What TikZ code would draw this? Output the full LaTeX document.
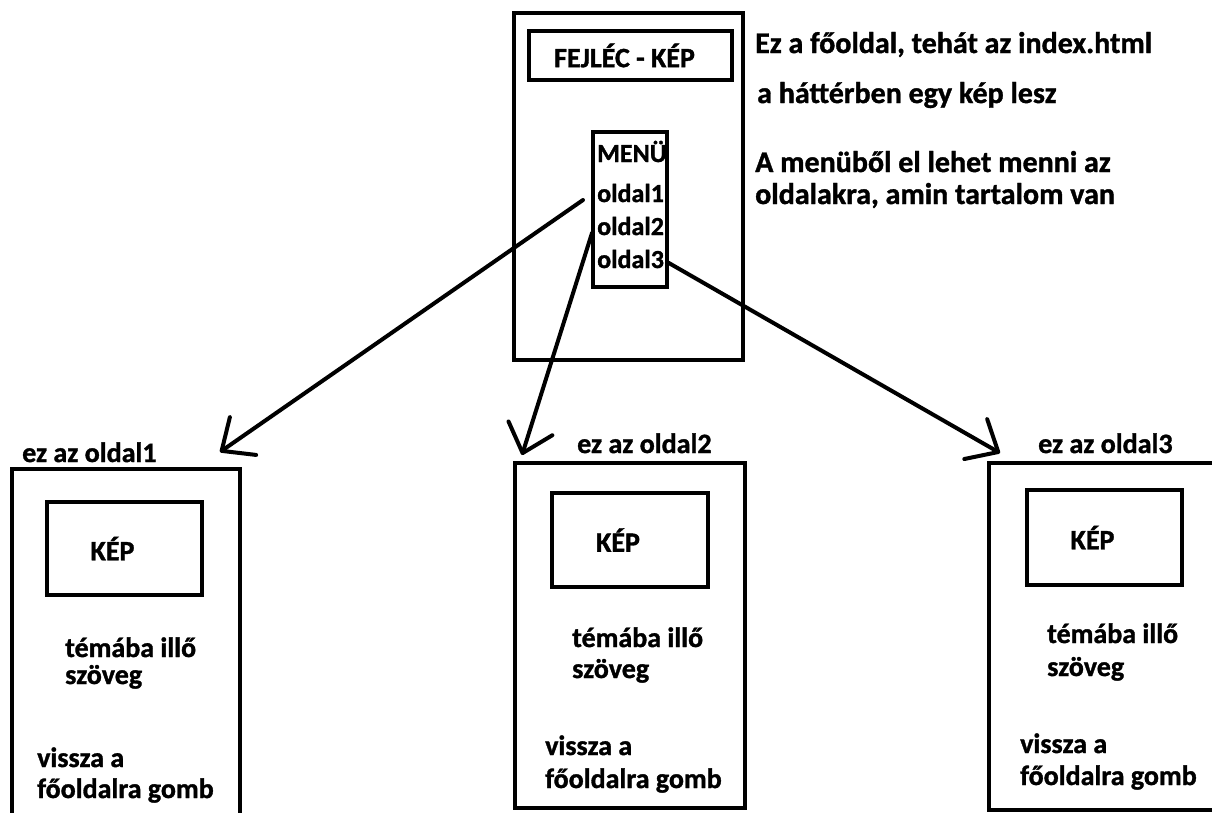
\documentclass[tikz,border=0pt]{standalone}
\usepackage{fontspec}
\setmainfont{Carlito}[BoldFeatures={FakeBold=1.2}]
\usetikzlibrary{arrows.meta}
\newcommand{\felirat}{\fontsize{28}{32}\selectfont\bfseries}
\newcommand{\nagyfelirat}{\fontsize{30}{34}\selectfont\bfseries}
\newcommand{\menufelirat}{\fontsize{26}{30}\selectfont\bfseries}
\begin{document}
\begin{tikzpicture}[x=1pt, y=-1pt,
		doboz/.style={draw, rectangle, line width=4pt, inner sep=0},
		szoveg/.style={anchor=base west, inner sep=0, font=\felirat},
		kepfelirat/.style={inner sep=0, font=\felirat},
		nyil/.style={line width=4pt, line cap=round, -{Straight Barb[round, length=26pt, width=46pt]}}]
		\useasboundingbox (0,0) rectangle (1212,812);
		\clip (0,0) rectangle (1212,812);
		% a fooldal
		\node[doboz, minimum width=229, minimum height=347] (fooldal) at (628.5,186.5) {};
		\node[doboz, minimum width=203, minimum height=49] (fejlec) at (630.5,55.5) {};
		\node[kepfelirat] (fejlecszoveg) at ([xshift=-6pt]fejlec.center) {FEJLÉC - KÉP};
		\node[doboz, minimum width=74, minimum height=155] (menu) at (630,209.5) {};
		\node[szoveg, font=\menufelirat] (menucim) at (597,162) {MENÜ};
		\node[szoveg, font=\menufelirat] (m1) at (597,202) {oldal1};
		\node[szoveg, font=\menufelirat] (m2) at (597,235) {oldal2};
		\node[szoveg, font=\menufelirat] (m3) at (597,268) {oldal3};
		\node[szoveg, font=\nagyfelirat] (leiras1) at (755,53) {Ez a főoldal, tehát az index.html};
		\node[szoveg, font=\nagyfelirat] (leiras2) at (757,103) {a háttérben egy kép lesz};
		\node[szoveg, font=\nagyfelirat] (leiras3) at (755,172) {A menüből el lehet menni az};
		\node[szoveg, font=\nagyfelirat] (leiras4) at (755,204) {oldalakra, amin tartalom van};
		% az oldalak
		\node[doboz, minimum width=228, minimum height=401] (lap1) at (126,669.5) {};
		\node[doboz, minimum width=230, minimum height=345] (lap2) at (630,635.5) {};
		\node[doboz, minimum width=271, minimum height=347] (lap3) at (1124.5,636.5) {};
		\node[szoveg] (cim1) at (22,462) {ez az oldal1};
		\node[szoveg] (cim2) at (577,453) {ez az oldal2};
		\node[szoveg] (cim3) at (1038,453) {ez az oldal3};
		\node[doboz, minimum width=155, minimum height=93] (kep1) at (124.5,548.5) {};
		\node[doboz, minimum width=156, minimum height=94] (kep2) at (630,540) {};
		\node[doboz, minimum width=155, minimum height=95] (kep3) at (1104.5,537.5) {};
		\node[kepfelirat] (kepszoveg1) at ([xshift=-12pt]kep1.center) {KÉP};
		\node[kepfelirat] (kepszoveg2) at ([xshift=-12pt]kep2.center) {KÉP};
		\node[kepfelirat] (kepszoveg3) at ([xshift=-12pt]kep3.center) {KÉP};
		\node[szoveg] (tema1a) at (65,657) {témába illő};
		\node[szoveg] (tema1b) at (65,684) {szöveg};
		\node[szoveg] (vissza1a) at (37,767) {vissza a};
		\node[szoveg] (vissza1b) at (37,798) {főoldalra gomb};
		\node[szoveg] (tema2a) at (572,647) {témába illő};
		\node[szoveg] (tema2b) at (572,678) {szöveg};
		\node[szoveg] (vissza2a) at (545,755) {vissza a};
		\node[szoveg] (vissza2b) at (545,788) {főoldalra gomb};
		\node[szoveg] (tema3a) at (1047,643) {témába illő};
		\node[szoveg] (tema3b) at (1047,676) {szöveg};
		\node[szoveg] (vissza3a) at (1020,753) {vissza a};
		\node[szoveg] (vissza3b) at (1020,785) {főoldalra gomb};
		% nyilak
		\coordinate (hegy1) at (220,452);
		\coordinate (hegy2) at (522,455);
		\coordinate (hegy3) at (1000,453);
		\draw[nyil] ([shift={(-14,-2)}]m1.base west) -- (hegy1);
		\draw[nyil] ([shift={(-5,-2)}]m2.base west) -- (hegy2);
		\draw[nyil] ([shift={(3,-6)}]m3.base east) -- (hegy3);
	\end{tikzpicture}
\end{document}
